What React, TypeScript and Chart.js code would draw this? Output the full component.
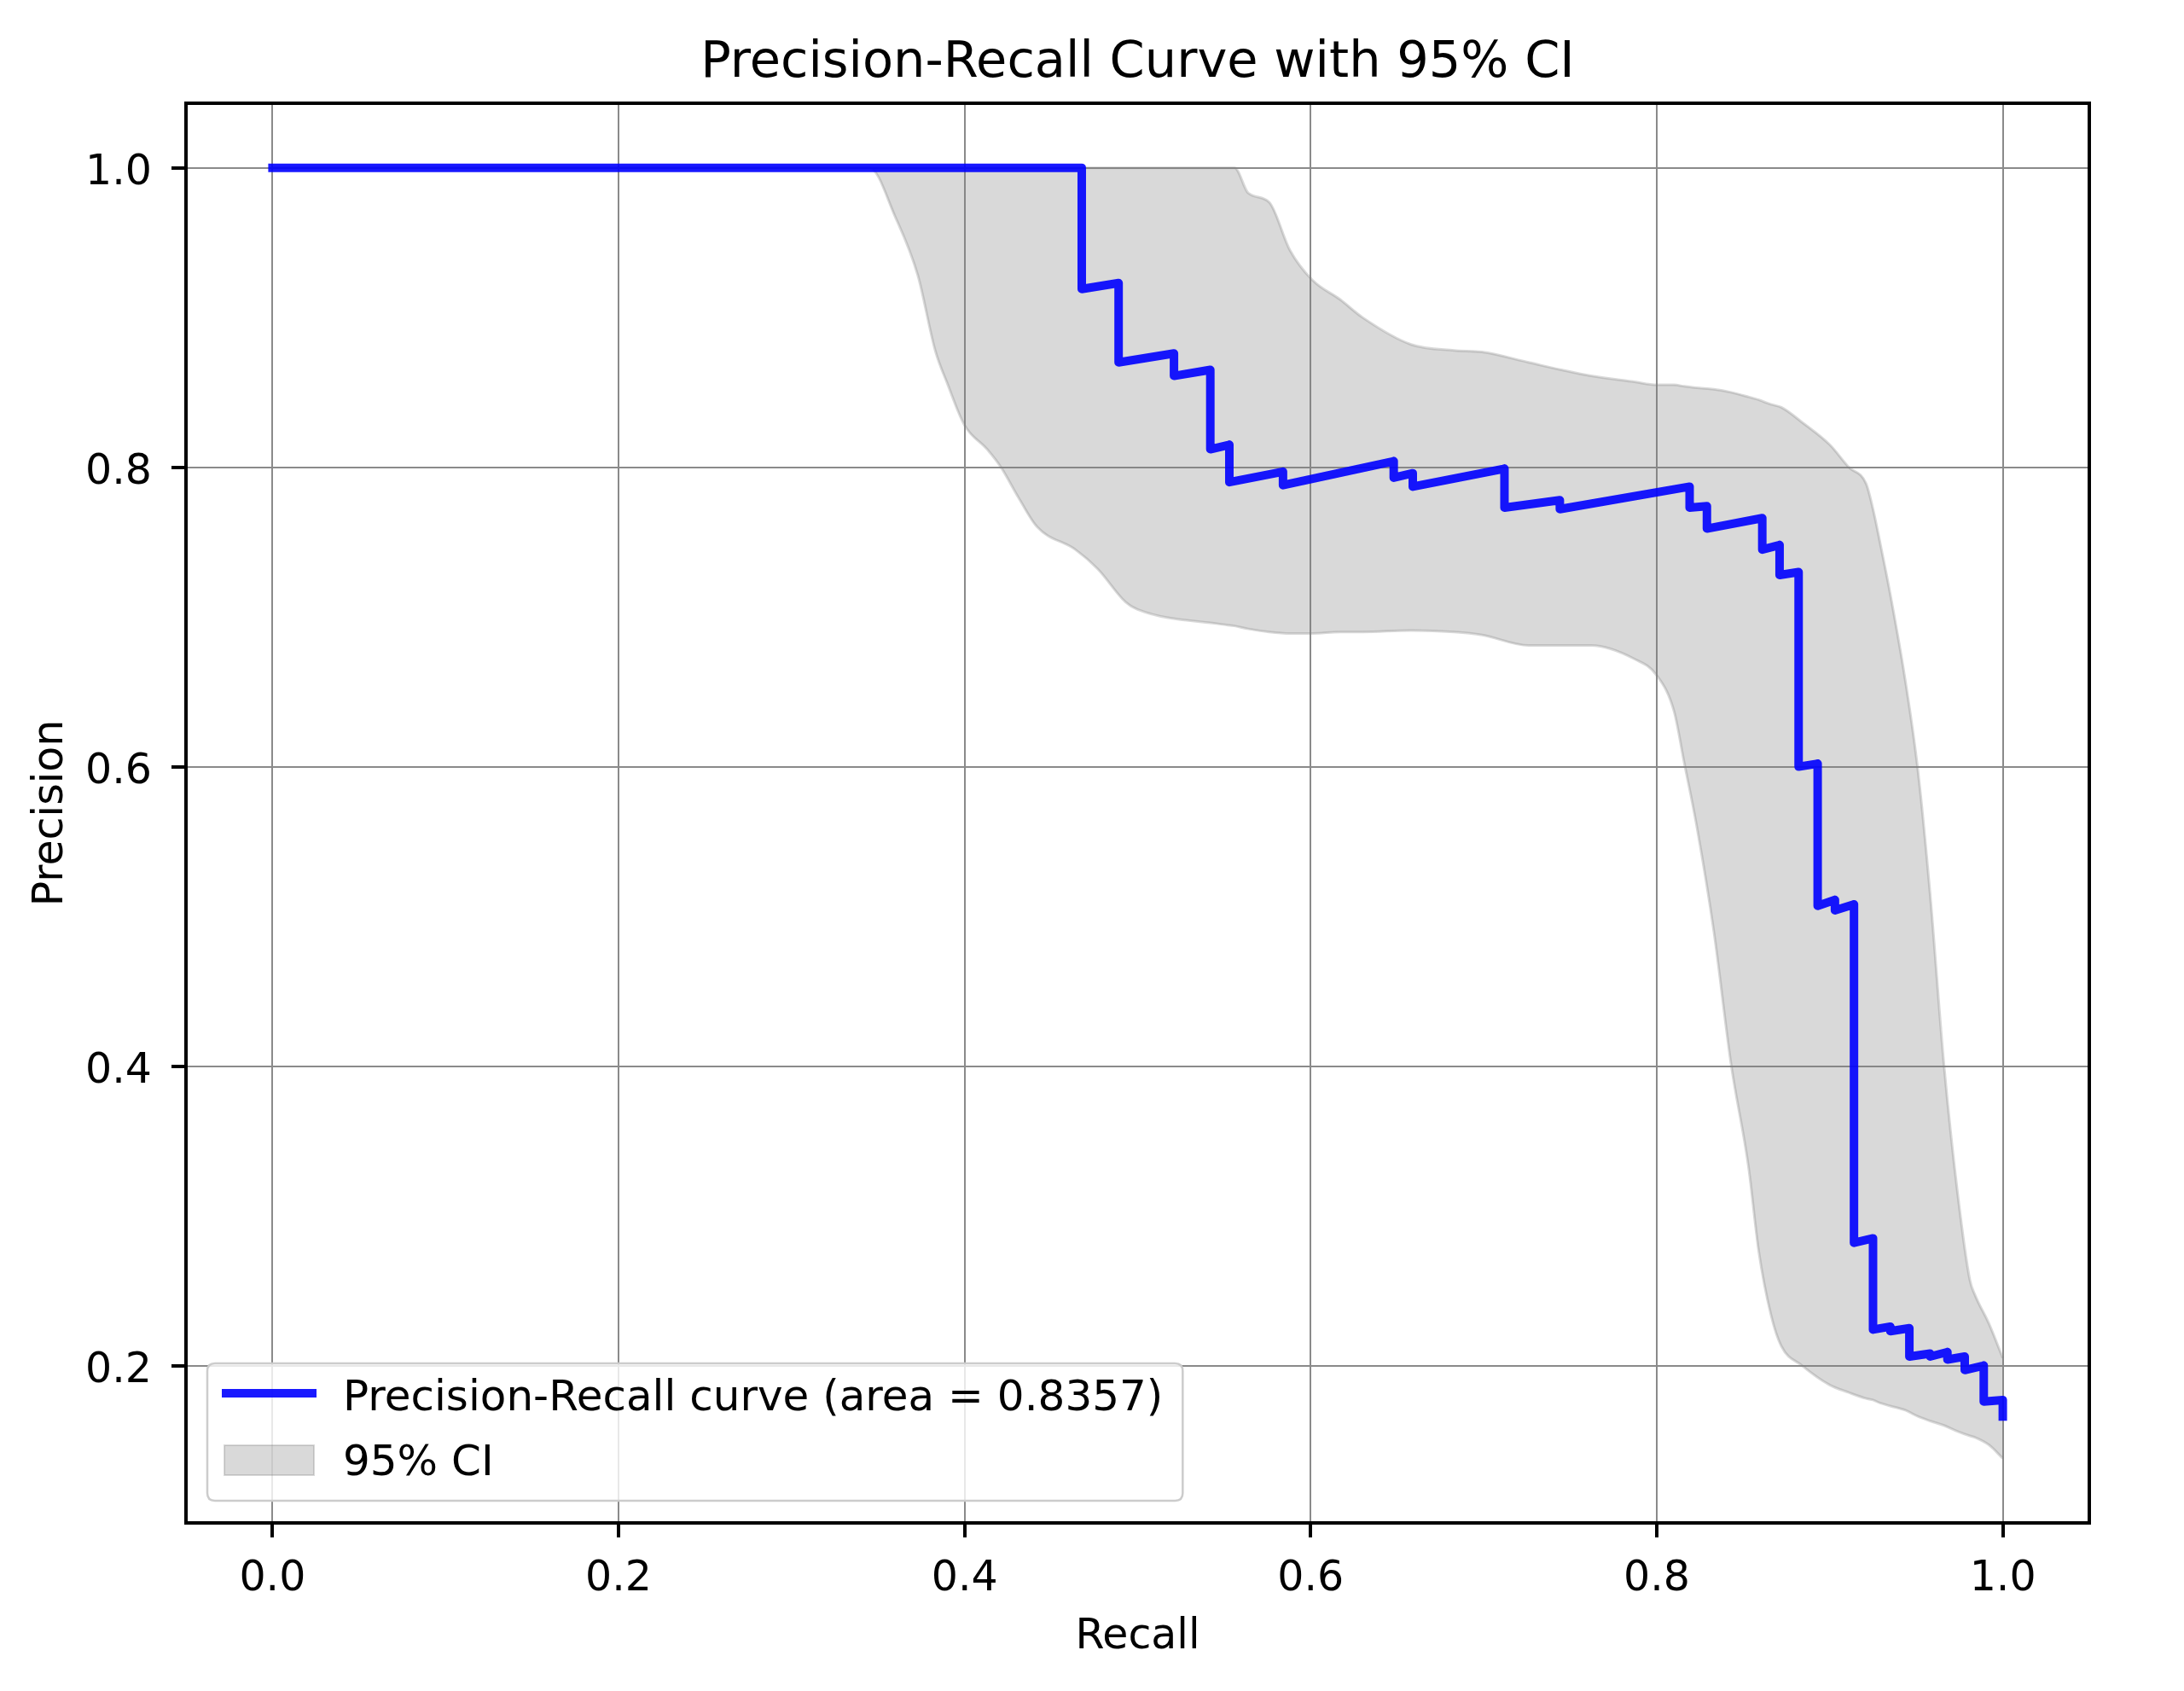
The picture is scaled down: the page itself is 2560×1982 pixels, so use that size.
import React, { useEffect, useRef } from 'react';
import { Chart, registerables } from 'chart.js';

Chart.register(...registerables);

// ---- Data ----
const prRecall = [0, 0.4677, 0.4677, 0.489, 0.489, 0.521, 0.521, 0.542, 0.542, 0.553, 0.553, 0.584, 0.584, 0.648, 0.648, 0.659, 0.659, 0.712, 0.712, 0.744, 0.744, 0.819, 0.819, 0.829, 0.829, 0.861, 0.861, 0.871, 0.871, 0.882, 0.882, 0.893, 0.893, 0.903, 0.903, 0.914, 0.914, 0.925, 0.925, 0.935, 0.935, 0.946, 0.946, 0.958, 0.958, 0.968, 0.968, 0.978, 0.978, 0.989, 0.989, 1.0, 1.0];
const prPrecision = [1.0, 1.0, 0.919, 0.923, 0.870, 0.876, 0.861, 0.865, 0.812, 0.815, 0.790, 0.797, 0.788, 0.804, 0.793, 0.796, 0.787, 0.799, 0.773, 0.778, 0.772, 0.787, 0.773, 0.774, 0.759, 0.766, 0.745, 0.748, 0.728, 0.730, 0.600, 0.602, 0.507, 0.511, 0.504, 0.508, 0.282, 0.285, 0.224, 0.226, 0.223, 0.225, 0.206, 0.208, 0.206, 0.209, 0.204, 0.206, 0.197, 0.200, 0.176, 0.177, 0.166];

const ciRecall = [0, 0.345, 0.36, 0.373, 0.383, 0.39, 0.40, 0.413, 0.421, 0.431, 0.442, 0.464, 0.477, 0.493, 0.50, 0.549, 0.556, 0.564, 0.576, 0.588, 0.601, 0.617, 0.630, 0.658, 0.683, 0.699, 0.726, 0.745, 0.762, 0.787, 0.80, 0.81, 0.816, 0.823, 0.833, 0.843, 0.853, 0.859, 0.866, 0.872, 0.884, 0.90, 0.911, 0.921, 0.925, 0.929, 0.935, 0.944, 0.951, 0.958, 0.966, 0.974, 0.981, 0.984, 0.992, 1.0];
const ciUpper = [1, 1, 1, 1, 1, 1, 1, 1, 1, 1, 1, 1, 1, 1, 1, 1, 1, 0.983, 0.977, 0.945, 0.925, 0.912, 0.900, 0.882, 0.878, 0.877, 0.870, 0.865, 0.861, 0.857, 0.855, 0.855, 0.854, 0.853, 0.852, 0.850, 0.847, 0.845, 0.842, 0.840, 0.830, 0.815, 0.800, 0.789, 0.772, 0.750, 0.715, 0.655, 0.597, 0.515, 0.401, 0.314, 0.257, 0.247, 0.228, 0.205];
const ciLower = [1, 1, 0.967, 0.928, 0.878, 0.856, 0.828, 0.812, 0.800, 0.780, 0.760, 0.745, 0.732, 0.710, 0.705, 0.695, 0.694, 0.692, 0.690, 0.689, 0.689, 0.690, 0.690, 0.691, 0.690, 0.688, 0.681, 0.681, 0.681, 0.672, 0.661, 0.637, 0.602, 0.561, 0.490, 0.401, 0.333, 0.276, 0.234, 0.213, 0.200, 0.187, 0.182, 0.178, 0.177, 0.175, 0.173, 0.170, 0.166, 0.163, 0.160, 0.156, 0.153, 0.152, 0.147, 0.138];

const xTickValues = [0, 0.2, 0.4, 0.6, 0.8, 1.0];
const yTickValues = [0.2, 0.4, 0.6, 0.8, 1.0];

const titleText = 'Precision-Recall Curve with 95% CI';
const xLabel = 'Recall';
const yLabel = 'Precision';
const curveLabel = 'Precision-Recall curve (area = 0.8357)';
const ciLabel = '95% CI';

const FONT = '"DejaVu Sans", "Liberation Sans", sans-serif';
const CURVE_COLOR = 'rgba(0,0,255,0.9)';
const BAND_FILL = 'rgba(128,128,128,0.3)';
const BAND_EDGE = 'rgba(128,128,128,0.3)';

const framePlugin = {
  id: 'frame',
  afterDatasetsDraw(chart: any) {
    const { ctx, chartArea: a } = chart;
    ctx.save();
    ctx.strokeStyle = '#000';
    ctx.lineWidth = 4;
    ctx.strokeRect(a.left, a.top, a.right - a.left, a.bottom - a.top);
    ctx.restore();
  },
};

const innerLegendPlugin = {
  id: 'innerLegend',
  afterDraw(chart: any) {
    const { ctx, chartArea: a } = chart;
    const ds = chart.data.datasets;
    const labels = [ds[0].label, ds[2].label];
    ctx.save();
    ctx.font = `50px ${FONT}`;
    const left = a.left + 25;
    const top = a.bottom - 187;
    const bottom = a.bottom - 26;
    const textX = left + 159;
    const w = Math.max(...labels.map((l: string) => ctx.measureText(l).width));
    const right = textX + w + 23;
    const r = 9;
    ctx.beginPath();
    ctx.moveTo(left + r, top);
    ctx.lineTo(right - r, top);
    ctx.quadraticCurveTo(right, top, right, top + r);
    ctx.lineTo(right, bottom - r);
    ctx.quadraticCurveTo(right, bottom, right - r, bottom);
    ctx.lineTo(left + r, bottom);
    ctx.quadraticCurveTo(left, bottom, left, bottom - r);
    ctx.lineTo(left, top + r);
    ctx.quadraticCurveTo(left, top, left + r, top);
    ctx.closePath();
    ctx.fillStyle = 'rgba(255,255,255,0.8)';
    ctx.fill();
    ctx.strokeStyle = '#cccccc';
    ctx.lineWidth = 2.5;
    ctx.stroke();

    // line handle
    ctx.strokeStyle = ds[0].borderColor;
    ctx.lineWidth = 10;
    ctx.lineCap = 'butt';
    ctx.beginPath();
    ctx.moveTo(left + 17, a.bottom - 152);
    ctx.lineTo(left + 128, a.bottom - 152);
    ctx.stroke();

    // patch handle
    ctx.fillStyle = BAND_FILL;
    ctx.fillRect(left + 20, a.bottom - 91, 105, 35);
    ctx.strokeStyle = BAND_EDGE;
    ctx.lineWidth = 2;
    ctx.strokeRect(left + 20, a.bottom - 91, 105, 35);

    ctx.fillStyle = '#000';
    ctx.textBaseline = 'alphabetic';
    ctx.textAlign = 'left';
    ctx.fillText(labels[0], textX, a.bottom - 132);
    ctx.fillText(labels[1], textX, a.bottom - 56);
    ctx.restore();
  },
};

export default function App() {
  const canvasRef = useRef<HTMLCanvasElement | null>(null);

  useEffect(() => {
    document.body.style.margin = '0';
    const canvas = canvasRef.current;
    if (!canvas) return;
    Chart.defaults.font.family = FONT;
    Chart.defaults.color = '#000';

    const chart = new Chart(canvas, {
      type: 'line',
      data: {
        datasets: [
          {
            label: curveLabel,
            data: prRecall.map((x, i) => ({ x, y: prPrecision[i] })),
            borderColor: CURVE_COLOR,
            backgroundColor: CURVE_COLOR,
            borderWidth: 10,
            pointRadius: 0,
            fill: false,
            tension: 0,
            borderJoinStyle: 'round',
            borderCapStyle: 'square',
          },
          {
            label: 'ci-lower',
            data: ciRecall.map((x, i) => ({ x, y: ciLower[i] })),
            borderColor: BAND_EDGE,
            borderWidth: 3,
            pointRadius: 0,
            fill: false,
            cubicInterpolationMode: 'monotone',
          },
          {
            label: ciLabel,
            data: ciRecall.map((x, i) => ({ x, y: ciUpper[i] })),
            borderColor: BAND_EDGE,
            backgroundColor: BAND_FILL,
            borderWidth: 3,
            pointRadius: 0,
            fill: '-1',
            cubicInterpolationMode: 'monotone',
          },
        ],
      },
      options: {
        responsive: false,
        animation: false,
        devicePixelRatio: 1,
        layout: { padding: { left: 0, top: 0, right: 111, bottom: 0 } },
        plugins: {
          legend: { display: false },
          tooltip: { enabled: false },
          title: {
            display: true,
            text: titleText,
            fullSize: false,
            color: '#000',
            font: { size: 59, weight: 'normal', lineHeight: 1.2 },
            padding: { top: 39.3, bottom: 10.9 },
          },
        },
        scales: {
          x: {
            type: 'linear',
            min: -0.05,
            max: 1.05,
            afterBuildTicks: (s: any) => {
              s.ticks = xTickValues.map((v) => ({ value: v }));
            },
            afterFit: (s: any) => {
              s.height = 197;
            },
            ticks: {
              callback: (v: any) => Number(v).toFixed(1),
              font: { size: 49 },
              color: '#000',
              padding: 19.5,
              maxRotation: 0,
              autoSkip: false,
            },
            grid: {
              color: '#8a8a8a',
              lineWidth: 2,
              drawTicks: true,
              tickLength: 17,
              tickColor: '#000',
              tickWidth: 4,
            },
            border: { display: false },
            title: {
              display: true,
              text: xLabel,
              color: '#000',
              font: { size: 49, lineHeight: 1.2 },
              padding: { top: 0, bottom: 33.3 },
            },
          },
          y: {
            type: 'linear',
            min: 0.0949,
            max: 1.0431,
            afterBuildTicks: (s: any) => {
              s.ticks = yTickValues.map((v) => ({ value: v }));
            },
            afterFit: (s: any) => {
              s.width = 218;
            },
            ticks: {
              callback: (v: any) => Number(v).toFixed(1),
              font: { size: 49 },
              color: '#000',
              padding: 23,
              labelOffset: 7,
              autoSkip: false,
            },
            grid: {
              color: '#8a8a8a',
              lineWidth: 2,
              drawTicks: true,
              tickLength: 17,
              tickColor: '#000',
              tickWidth: 4,
            },
            border: { display: false },
            title: {
              display: true,
              text: yLabel,
              color: '#000',
              font: { size: 49, lineHeight: 1.2 },
              padding: { top: 30.9, bottom: 0 },
            },
          },
        },
      } as any,
      plugins: [framePlugin, innerLegendPlugin],
    });

    return () => {
      chart.destroy();
    };
  }, []);

  return (
    <div style={{ position: 'absolute', left: 0, top: 0, width: 2560, height: 1982 }}>
      <canvas ref={canvasRef} width={2560} height={1982} style={{ display: 'block', width: 2560, height: 1982 }} />
    </div>
  );
}
